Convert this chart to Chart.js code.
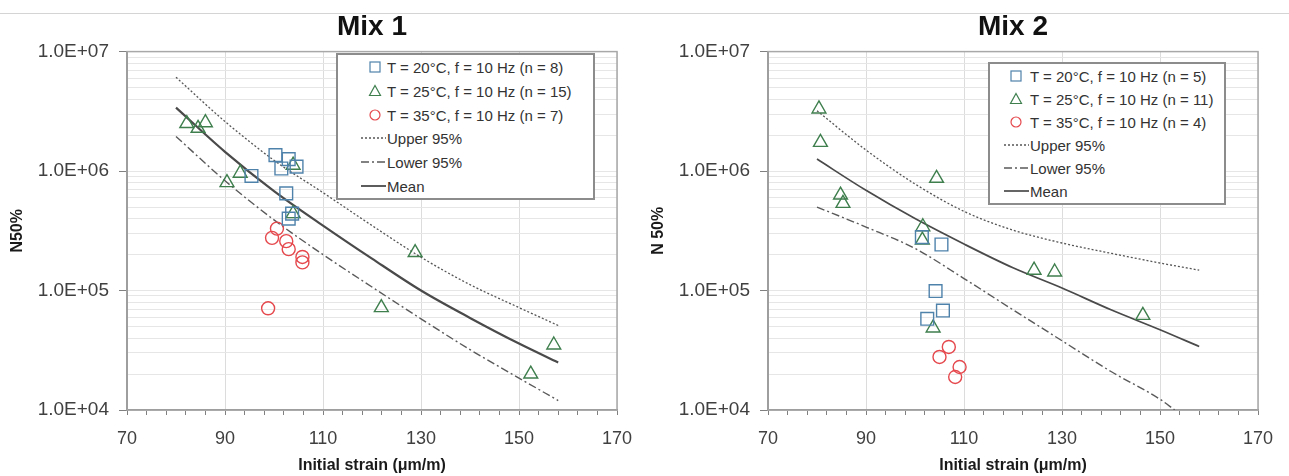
<!DOCTYPE html>
<html>
<head>
<meta charset="utf-8">
<script src="https://cdn.jsdelivr.net/npm/chart.js@4.4.1/dist/chart.umd.min.js"></script>
<style>
    body {
        margin: 0;
        width: 1289px;
        height: 476px;
        position: relative;
        background: #fff;
        overflow: hidden;
        font-family: "Liberation Sans", Arial, sans-serif;
    }
    .topline {
        position: absolute;
        left: 0;
        top: 13px;
        width: 1289px;
        border-top: 1px solid #d4d4d4;
    }
    canvas {
        position: absolute;
        top: 0;
    }
    .legend {
        position: absolute;
        box-sizing: border-box;
        border: 2px solid #8c8c8c;
        background: #fff;
        display: flex;
        flex-direction: column;
        font-size: 15px;
        color: #333;
    }
    .legend .row {
        flex: 1;
        position: relative;
        white-space: nowrap;
    }
    .legend svg {
        position: absolute;
        left: 0;
        top: 0;
    }
    .legend span {
        position: absolute;
        top: 50%;
        transform: translateY(-50%);
    }
</style>
</head>
<body>
<div class="topline"></div>
<canvas id="mix1" width="640" height="476" style="left:0"></canvas>
<canvas id="mix2" width="640" height="476" style="left:641px"></canvas>
<div class="legend" id="legend1" style="left:336px; top:53px; width:259px; height:147px"></div>
<div class="legend" id="legend2" style="left:988px; top:62px; width:238px; height:143px"></div>

<script>
// ---- Mix 1 : test points (strain in µm/m, N50%) ----
const mix1Strain20 = [100.3, 103.0, 101.5, 104.6, 95.4, 102.5, 103.0, 103.7];
const mix1N20 = [1.36e6, 1.26e6, 1.05e6, 1.09e6, 9.1e5, 6.5e5, 4.0e5, 4.4e5];

const mix1Strain25 = [82.2, 84.5, 86.0, 90.4, 93.1, 103.9, 103.9, 128.8, 121.9, 157.1, 152.4];
const mix1N25 = [2.5e6, 2.28e6, 2.54e6, 8.0e5, 9.6e5, 1.12e6, 4.4e5, 2.08e5, 7.2e4, 3.5e4, 2.0e4];

const mix1Strain35 = [100.6, 99.6, 102.5, 103.0, 105.8, 105.8, 98.8];
const mix1N35 = [3.3e5, 2.76e5, 2.59e5, 2.22e5, 1.91e5, 1.72e5, 7.1e4];

// ---- Mix 1 : fitted curves ----
const curveStrain = [80, 90, 100, 110, 120, 130, 140, 150, 158];
const mix1Mean = [3.4e6, 1.45e6, 6.8e5, 3.5e5, 1.85e5, 1.0e5, 5.9e4, 3.6e4, 2.5e4];
const mix1Upper = [6.1e6, 2.6e6, 1.23e6, 6.6e5, 3.5e5, 1.9e5, 1.12e5, 7.2e4, 5.1e4];
const mix1Lower = [1.95e6, 8.3e5, 3.9e5, 2.0e5, 1.07e5, 5.8e4, 3.2e4, 1.85e4, 1.2e4];

// ---- Mix 2 : test points ----
const mix2Strain20 = [105.4, 104.2, 105.7, 102.5, 101.4];
const mix2N20 = [2.43e5, 9.9e4, 6.8e4, 5.8e4, 2.8e5];

const mix2Strain25 = [80.4, 80.7, 84.8, 85.3, 104.4, 101.6, 101.5, 124.3, 128.5, 103.7, 146.5];
const mix2N25 = [3.31e6, 1.74e6, 6.3e5, 5.36e5, 8.7e5, 3.42e5, 2.64e5, 1.48e5, 1.43e5, 4.86e4, 6.2e4];

const mix2Strain35 = [106.9, 105.0, 109.1, 108.2];
const mix2N35 = [3.37e4, 2.78e4, 2.29e4, 1.89e4];

// ---- Mix 2 : fitted curves ----
const mix2Mean = [1.26e6, 6.9e5, 4.0e5, 2.45e5, 1.55e5, 1.05e5, 6.9e4, 4.7e4, 3.4e4];
const mix2Upper = [3.2e6, 1.5e6, 7.8e5, 4.6e5, 3.2e5, 2.5e5, 2.05e5, 1.7e5, 1.48e5];
const mix2LowerStrain = [80, 90, 100, 110, 120, 130, 140, 150, 153];
const mix2Lower = [5.0e5, 3.4e5, 2.25e5, 1.26e5, 6.9e4, 3.8e4, 2.1e4, 1.23e4, 1.0e4];

// legend counts
const mix1Counts = [8, 15, 7];
const mix2Counts = [5, 11, 4];

const FONT = '"Liberation Sans", Arial, sans-serif';
const BLUE = '#4f82ab';
const GREEN = '#3f7f4e';
const RED = '#e5484d';
const LINE = '#4a4a4a';

function pts(xs, ys) {
    return xs.map((x, i) => ({x: x, y: ys[i]}));
}

function pointSet(label, xs, ys, style, color, radius) {
    return {
        label: label,
        data: pts(xs, ys),
        showLine: false,
        pointStyle: style,
        pointRadius: radius,
        pointBorderColor: color,
        pointBackgroundColor: 'rgba(255,255,255,0)',
        pointBorderWidth: 1.4,
        borderColor: color
    };
}

function curveSet(label, xs, ys, dash, width, color) {
    return {
        label: label,
        data: pts(xs, ys),
        showLine: true,
        pointRadius: 0,
        borderColor: color,
        borderWidth: width,
        borderDash: dash,
        cubicInterpolationMode: 'monotone',
        fill: false
    };
}

function sciLabel(v) {
    const e = Math.log10(v);
    const m = v / Math.pow(10, Math.floor(e + 1e-9));
    if (Math.abs(m - Math.round(m)) > 1e-6) return null;
    if (Math.abs(e - Math.round(e)) > 1e-6) return '';
    return '1.0E+' + String(Math.round(e)).padStart(2, '0');
}

function isMajorX(v) {
    return (v - 70) % 20 === 0;
}

const framePlugin = {
    id: 'frame',
    beforeDatasetsDraw(chart) {
        const {ctx, chartArea: a} = chart;
        ctx.save();
        ctx.strokeStyle = '#a8a8a8';
        ctx.lineWidth = 1.5;
        ctx.strokeRect(a.left, a.top, a.width, a.height);
        ctx.restore();
    }
};

function makeChart(id, title, yTitle, datasets) {
    return new Chart(document.getElementById(id), {
        type: 'scatter',
        data: {datasets: datasets},
        plugins: [framePlugin],
        options: {
            responsive: false,
            animation: false,
            layout: {padding: {left: 0, right: 23, top: 0, bottom: 0}},
            plugins: {
                legend: {display: false},
                tooltip: {enabled: false},
                title: {
                    display: true,
                    text: title,
                    fullSize: false,
                    color: '#111',
                    font: {family: FONT, size: 28, weight: 'bold', lineHeight: 1.2},
                    padding: {top: 10, bottom: 8}
                }
            },
            scales: {
                x: {
                    type: 'linear',
                    min: 70,
                    max: 170,
                    afterFit: s => {
                        s.height = 66;
                        s.paddingLeft = 0;
                        s.paddingRight = 0;
                    },
                    ticks: {
                        stepSize: 4,
                        autoSkip: false,
                        maxRotation: 0,
                        padding: 13,
                        color: '#404040',
                        font: {family: FONT, size: 18},
                        callback: v => isMajorX(v) ? String(v) : ''
                    },
                    grid: {
                        color: c => (c.tick && isMajorX(c.tick.value)) ? '#dcdcdc' : 'rgba(0,0,0,0)',
                        tickColor: '#808080',
                        tickLength: 5,
                        lineWidth: 1
                    },
                    border: {display: true, color: '#808080', width: 1.5},
                    title: {
                        display: true,
                        text: 'Initial strain (μm/m)',
                        color: '#1a1a1a',
                        font: {family: FONT, size: 16, weight: 'bold'},
                        padding: {top: 0, bottom: 1}
                    }
                },
                y: {
                    type: 'logarithmic',
                    min: 1e4,
                    max: 1e7,
                    afterFit: s => { s.width = 127; },
                    ticks: {
                        autoSkip: false,
                        padding: 10,
                        color: '#404040',
                        font: {family: FONT, size: 19},
                        callback: v => sciLabel(v)
                    },
                    grid: {
                        color: '#e6e6e6',
                        tickColor: c => (c.tick && c.tick.label) ? '#808080' : 'rgba(0,0,0,0)',
                        tickLength: 8,
                        lineWidth: 1
                    },
                    border: {display: true, color: '#808080', width: 2},
                    title: {
                        display: true,
                        text: yTitle,
                        color: '#1a1a1a',
                        font: {family: FONT, size: 16, weight: 'bold'},
                        padding: {top: 8, bottom: 0}
                    }
                }
            }
        }
    });
}

function mixDatasets(counts, s20, n20, s25, n25, s35, n35, up, low, lowStrain, mean, meanWidth) {
    return [
        pointSet(`T = 20°C, f = 10 Hz (n = ${counts[0]})`, s20, n20, 'rect', BLUE, 9),
        pointSet(`T = 25°C, f = 10 Hz (n = ${counts[1]})`, s25, n25, 'triangle', GREEN, 8),
        pointSet(`T = 35°C, f = 10 Hz (n = ${counts[2]})`, s35, n35, 'circle', RED, 6.5),
        curveSet('Upper 95%', curveStrain, up, [2, 2], 1.3, '#555'),
        curveSet('Lower 95%', lowStrain, low, [8, 3, 2, 3], 1.4, '#5a5a5a'),
        curveSet('Mean', curveStrain, mean, [], meanWidth, LINE)
    ];
}

function buildLegend(chart, el, markerX, textX) {
    chart.data.datasets.forEach(ds => {
        const row = document.createElement('div');
        row.className = 'row';
        const c = ds.borderColor;
        let sym = '';
        if (!ds.showLine) {
            if (ds.pointStyle === 'rect') {
                sym = `<rect x="${markerX - 5}" y="7" width="10" height="10" fill="none" stroke="${c}" stroke-width="1.2"/>`;
            } else if (ds.pointStyle === 'triangle') {
                sym = `<polygon points="${markerX},6.5 ${markerX + 5.5},16.5 ${markerX - 5.5},16.5" fill="none" stroke="${c}" stroke-width="1.2"/>`;
            } else {
                sym = `<circle cx="${markerX}" cy="12" r="5" fill="none" stroke="${c}" stroke-width="1.2"/>`;
            }
        } else {
            const dash = ds.borderDash.length ? `stroke-dasharray="${ds.borderDash.join(' ')}"` : '';
            sym = `<line x1="${textX - 26}" y1="12" x2="${textX - 1}" y2="12" stroke="${c}" stroke-width="${Math.min(ds.borderWidth, 1.8)}" ${dash}/>`;
        }
        row.innerHTML = `<svg width="${textX}" height="24" viewBox="0 0 ${textX} 24" style="top:50%;transform:translateY(-50%)">${sym}</svg>` +
            `<span style="left:${textX}px">${ds.label}</span>`;
        el.appendChild(row);
    });
}

const chart1 = makeChart('mix1', 'Mix 1', 'N50%',
    mixDatasets(mix1Counts, mix1Strain20, mix1N20, mix1Strain25, mix1N25, mix1Strain35, mix1N35,
        mix1Upper, mix1Lower, curveStrain, mix1Mean, 2.2));

const chart2 = makeChart('mix2', 'Mix 2', 'N 50%',
    mixDatasets(mix2Counts, mix2Strain20, mix2N20, mix2Strain25, mix2N25, mix2Strain35, mix2N35,
        mix2Upper, mix2Lower, mix2LowerStrain, mix2Mean, 1.7));

buildLegend(chart1, document.getElementById('legend1'), 37, 49);
buildLegend(chart2, document.getElementById('legend2'), 26, 40);
</script>
</body>
</html>
